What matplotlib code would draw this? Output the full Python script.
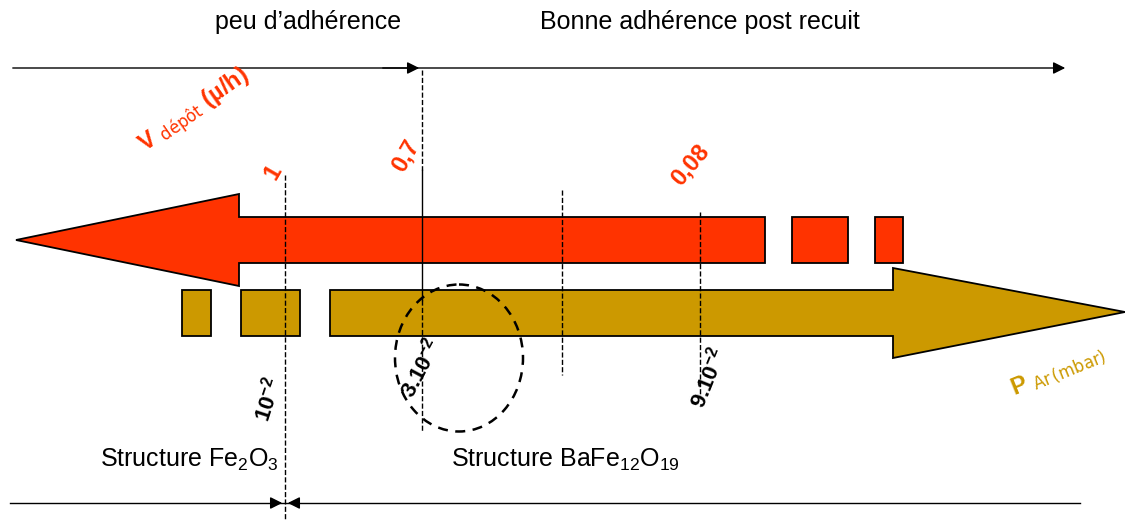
import matplotlib.pyplot as plt
from matplotlib.patches import Polygon, Rectangle, Ellipse

plt.rcParams['font.family'] = ['Liberation Sans', 'DejaVu Sans']
plt.rcParams['mathtext.fontset'] = 'custom'
plt.rcParams['mathtext.rm'] = 'Liberation Sans'
plt.rcParams['mathtext.it'] = 'Liberation Sans'
plt.rcParams['mathtext.bf'] = 'Liberation Sans:bold'

RED = '#ff3300'
GOLD = '#cc9900'

zones_top = ['peu d\u2019adhérence', 'Bonne adhérence post recuit']
zones_bottom = ['Structure Fe$_2$O$_3$', 'Structure BaFe$_{12}$O$_{19}$']
v_labels = ['1', '0,7', '0,08']
p_labels = ['10$^{\\mathbf{-2}}$', '3.10$^{\\mathbf{-2}}$', '9.10$^{\\mathbf{-2}}$']

fig = plt.figure(figsize=(11.25, 5.2), dpi=100)
ax = fig.add_axes([0, 0, 1, 1])
ax.set_xlim(0, 1125)
ax.set_ylim(520, 0)
ax.axis('off')

# top axis
ax.annotate('', xy=(1068, 68), xytext=(10, 68),
            arrowprops=dict(arrowstyle='-|>', color='black', lw=1, mutation_scale=18))
ax.annotate('', xy=(422, 68), xytext=(380, 68),
            arrowprops=dict(arrowstyle='-|>', color='black', lw=1, mutation_scale=18))
ax.text(308, 22, zones_top[0], fontsize=18, ha='center', va='center')
ax.text(700, 22, zones_top[1], fontsize=18, ha='center', va='center')

# vertical markers
ax.plot([422, 422], [70, 170], 'k--', lw=1)
ax.plot([422, 422], [170, 300], 'k-', lw=1)
ax.plot([422, 422], [300, 432], 'k--', lw=1)
ax.plot([285, 285], [175, 520], 'k--', lw=1)
ax.plot([562, 562], [190, 375], 'k--', lw=1)
ax.plot([700, 700], [212, 398], 'k--', lw=1)

# red arrow (V depot), pointing left
red = Polygon([(16, 240), (239, 194), (239, 217), (765, 217), (765, 263),
               (239, 263), (239, 286)], closed=True, fc=RED, ec='black', lw=1.3)
ax.add_patch(red)
ax.add_patch(Rectangle((792, 217), 56, 46, fc=RED, ec='black', lw=1.3))
ax.add_patch(Rectangle((875, 217), 28, 46, fc=RED, ec='black', lw=1.3))

# gold arrow (P Ar), pointing right
gold = Polygon([(330, 290), (893, 290), (893, 268), (1125, 312), (893, 358),
                (893, 336), (330, 336)], closed=True, fc=GOLD, ec='black', lw=1.3)
ax.add_patch(gold)
ax.add_patch(Rectangle((182, 290), 29, 46, fc=GOLD, ec='black', lw=1.3))
ax.add_patch(Rectangle((241, 290), 59, 46, fc=GOLD, ec='black', lw=1.3))

ax.add_patch(Ellipse((459, 358), 128, 147, fill=False, ec='black', ls=(0, (4, 3)), lw=1.8))

# red labels
ax.text(195, 112, 'V $_{\\mathsf{dépôt}}$ (µ/h)', color=RED, fontsize=17, fontweight='bold',
        rotation=35, ha='center', va='center')
for lab, (x, y, r) in zip(v_labels, [(273, 172, 60), (406, 156, 60), (690, 165, 50)]):
    ax.text(x, y, lab, color=RED, fontsize=17, fontweight='bold', rotation=r,
            ha='center', va='center')

# black pressure labels
for lab, (x, y, r) in zip(p_labels, [(268, 400, 72), (421, 368, 62), (708, 378, 68)]):
    ax.text(x, y, lab, color='black', fontsize=16, fontweight='bold', rotation=r,
            ha='center', va='center')

ax.text(1058, 372, 'P $_{\\mathsf{Ar\\,(mbar)}}$', color=GOLD, fontsize=17, fontweight='bold',
        rotation=22, ha='center', va='center')

# bottom axis
ax.text(189, 460, zones_bottom[0], fontsize=18, ha='center', va='center')
ax.text(565, 460, zones_bottom[1], fontsize=18, ha='center', va='center')
ax.plot([10, 1080], [503, 503], 'k-', lw=1)
ax.annotate('', xy=(285, 503), xytext=(268, 503),
            arrowprops=dict(arrowstyle='-|>', color='black', lw=1, mutation_scale=18))
ax.annotate('', xy=(285, 503), xytext=(302, 503),
            arrowprops=dict(arrowstyle='-|>', color='black', lw=1, mutation_scale=18))

fig.savefig('out.png', dpi=100)
